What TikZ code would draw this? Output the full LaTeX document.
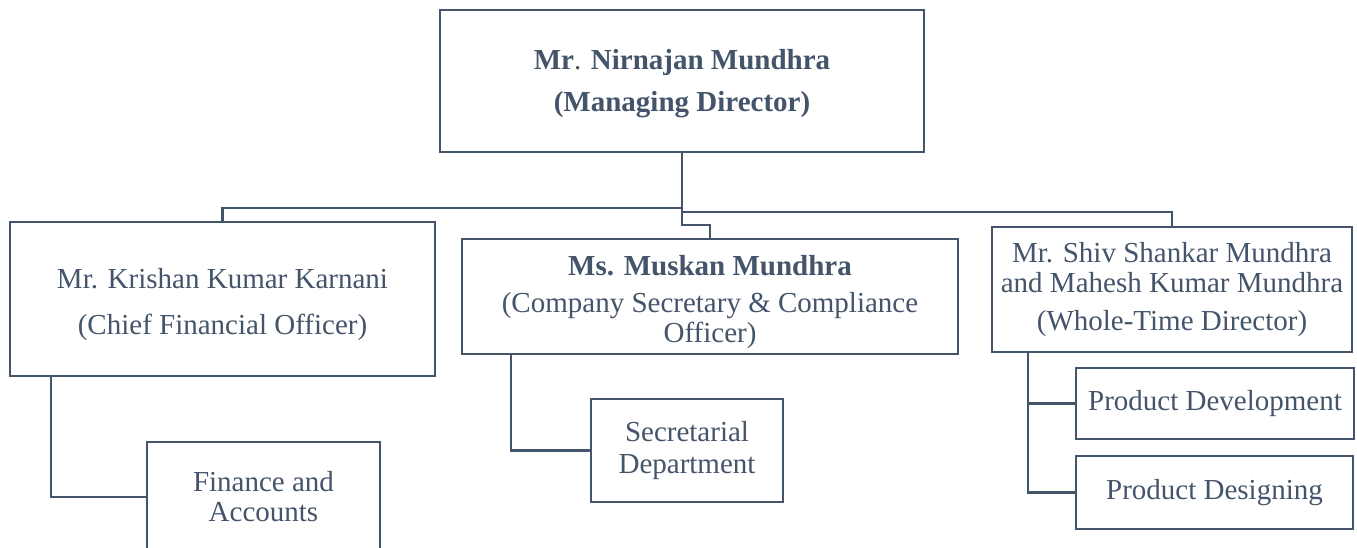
\documentclass[tikz,border=0pt]{standalone}
\usepackage{fontspec}
\setmainfont{Liberation Serif}
\usepackage{tikz}
\definecolor{slate}{HTML}{44546A}

\begin{document}
\begin{tikzpicture}
  [x=1pt, y=-1pt,
   every node/.style={text=slate, font=\fontsize{29}{30}\selectfont, align=center, inner sep=0},
   ebox/.style={draw=slate, line width=2.5pt, fill=white, rectangle},
   link/.style={draw=slate, line width=2.5pt}]
  \clip (0,0) rectangle (1357,548);

  \node[ebox, minimum width=484, minimum height=142] (md) at (682, 81)
       {\rule{0pt}{26pt}\textbf{Mr}. \textbf{Nirnajan Mundhra}\\[12pt]\textbf{(Managing Director)}};
  \node[ebox, minimum width=425, minimum height=154] (cfo) at (222.5, 299)
       {\rule{0pt}{32pt}Mr. Krishan Kumar Karnani\\[16pt](Chief Financial Officer)};
  \node[ebox, minimum width=496, minimum height=115] (cs) at (710, 296.5)
       {\rule{0pt}{32pt}\textbf{Ms. Muskan Mundhra}\\[7pt](Company Secretary \& Compliance\\Officer)};
  \node[ebox, minimum width=360, minimum height=125] (wtd) at (1172, 289.5)
       {Mr. Shiv Shankar Mundhra\\and Mahesh Kumar Mundhra\\[8pt](Whole-Time Director)};

  \node[ebox, minimum width=233, minimum height=110] (fin) at (263.5, 497) {Finance and\\Accounts};
  \node[ebox, minimum width=192, minimum height=103] (sec) at (687, 450.5) {Secretarial\\[2pt]Department};
  \node[ebox, minimum width=278, minimum height=71] (pdev) at (1215, 403.5) {Product Development};
  \node[ebox, minimum width=277, minimum height=73] (pdes) at (1214.5, 492.5) {Product Designing};

  \draw[link] (md.south) -- ++(0,55) -| (cfo.north);
  \draw[link] (md.south) -- ++(0,59) -| (wtd.north);
  \draw[link] (md.south) -- ++(0,72) -| (cs.north);

  \draw[link] ([xshift=42]cfo.south west) |- (fin.west);
  \draw[link] ([xshift=50]cs.south west) |- (sec.west);
  \draw[link] ([xshift=37]wtd.south west) |- (pdev.west);
  \draw[link] ([xshift=37]wtd.south west) |- (pdes.west);
\end{tikzpicture}
\end{document}
